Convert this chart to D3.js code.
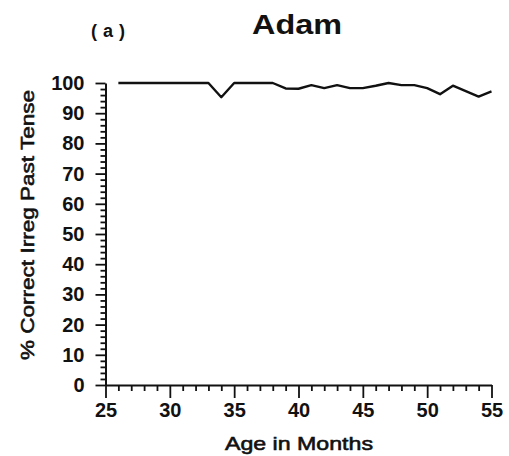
<!DOCTYPE html>
<html><head><meta charset="utf-8">
<script src="https://cdn.jsdelivr.net/npm/d3@7"></script>
<style>
html,body{margin:0;padding:0;background:#fff;}
text{font-family:"Liberation Sans",Arial,Helvetica,sans-serif;fill:#111;}
</style></head>
<body>
<svg id="chart" width="509" height="456"></svg>
<script>
const months = [26,27,28,29,30,31,32,33,34,35,36,37,38,39,40,41,42,43,44,45,46,47,48,49,50,51,52,53,54,55];
const percentCorrect = [100,100,100,100,100,100,100,100,95.3,100,100,100,100,98.2,98.1,99.3,98.3,99.3,98.3,98.3,99.1,100,99.3,99.3,98.3,96.3,99.1,97.3,95.5,97.2];
const xTickValues = [25,30,35,40,45,50,55];
const yTickValues = [0,10,20,30,40,50,60,70,80,90,100];
const titleText = "Adam";
const panelLabel = "(a)";
const xLabel = "Age in Months";
const yLabel = "% Correct Irreg Past Tense";

const svg = d3.select("#chart");
const x = d3.scaleLinear().domain([25,55]).range([105.5,491.5]);
const y = d3.scaleLinear().domain([0,100]).range([385,83]);

const xMinor = d3.range(25,56,1).filter(v => !xTickValues.includes(v));
const yMinor = d3.range(0,101,2).filter(v => !yTickValues.includes(v));

const gx = svg.append("g").attr("transform","translate(0,385)");
gx.call(d3.axisBottom(x).tickValues(xMinor).tickSize(6).tickFormat(""))
  .call(g => g.select(".domain").remove());
gx.append("g").call(d3.axisBottom(x).tickValues(xTickValues).tickSize(13).tickSizeOuter(0).tickPadding(5).tickFormat(d3.format("d")));

const gy = svg.append("g").attr("transform","translate(105.5,0)");
gy.call(d3.axisLeft(y).tickValues(yMinor).tickSize(5).tickFormat(""))
  .call(g => g.select(".domain").remove());
gy.append("g").call(d3.axisLeft(y).tickValues(yTickValues).tickSize(10).tickSizeOuter(0).tickPadding(11).tickFormat(d3.format("d")));

svg.selectAll(".domain").attr("stroke","#111").attr("stroke-width",2);
svg.selectAll(".tick line").attr("stroke","#111").attr("stroke-width",1.8);
svg.selectAll(".tick text").attr("font-size",20).attr("font-weight","bold").attr("fill","#111")
   .attr("font-family",'"Liberation Sans",Arial,sans-serif');

const line = d3.line().x((d,i)=>x(months[i])).y(d=>y(d));
svg.append("path").datum(percentCorrect)
  .attr("d",line).attr("fill","none").attr("stroke","#111").attr("stroke-width",2.4)
  .attr("stroke-linejoin","round");

svg.append("text").attr("x",297).attr("y",34).attr("text-anchor","middle")
  .attr("font-size",28).attr("font-weight","bold").attr("textLength",90).attr("lengthAdjust","spacingAndGlyphs").text(titleText);
svg.append("text").attr("x",111).attr("y",37).attr("text-anchor","middle")
  .attr("font-size",18).attr("font-weight","bold").attr("letter-spacing",6).text(panelLabel);
svg.append("text").attr("x",299).attr("y",450).attr("text-anchor","middle")
  .attr("font-size",19).attr("stroke","#111").attr("stroke-width",0.6)
  .attr("textLength",148).attr("lengthAdjust","spacingAndGlyphs").text(xLabel);
svg.append("text").attr("transform","translate(34,225) rotate(-90)").attr("text-anchor","middle")
  .attr("font-size",19).attr("stroke","#111").attr("stroke-width",0.6)
  .attr("textLength",270).attr("lengthAdjust","spacingAndGlyphs").text(yLabel);
</script>
</body></html>
